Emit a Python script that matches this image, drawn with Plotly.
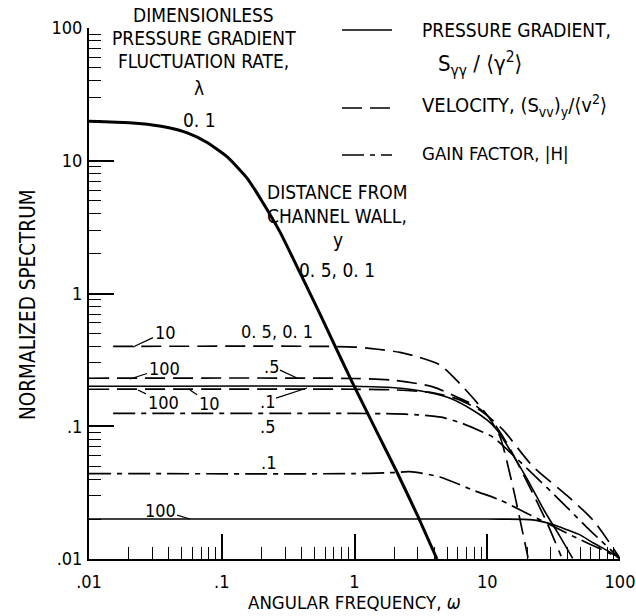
import plotly.graph_objects as go

# ---------------- data ----------------
# Pressure gradient, lambda = 0.1 (velocity y=0.5, 0.1 coincide)
w_p01 = [0.01, 0.02, 0.03, 0.04, 0.055, 0.077, 0.11, 0.155, 0.2, 0.275, 0.4, 0.55, 0.65, 0.96, 1.48, 2.09, 3.0, 4.18]
s_p01 = [19.8, 19.3, 18.6, 17.7, 16.2, 13.8, 10.7, 7.4, 5.0, 2.9, 1.35, 0.70, 0.49, 0.215, 0.09, 0.045, 0.021, 0.01]

# Pressure gradient, lambda = 10
w_p10 = [0.01, 1.0, 2.0, 3.5, 5.2, 7.8, 10.0, 11.8, 15.0, 20.0, 27.0, 35.0, 44.0]
s_p10 = [0.2, 0.2, 0.195, 0.181, 0.163, 0.132, 0.111, 0.094, 0.065, 0.04, 0.023, 0.015, 0.0101]

# Pressure gradient, lambda = 100
w_p100 = [0.01, 10.0, 22.0, 30.0, 40.0, 50.0, 63.0, 80.0, 100.0]
s_p100 = [0.02, 0.02, 0.0197, 0.0184, 0.0166, 0.0152, 0.0132, 0.0116, 0.0101]

# Velocity, lambda = 10 (y = 0.5, 0.1)
w_v10 = [0.0152, 0.5, 1.0, 1.5, 2.2, 3.0, 4.4, 6.2, 8.4, 10.5, 12.5, 15.6, 18.0, 20.3]
s_v10 = [0.4, 0.4, 0.395, 0.38, 0.36, 0.333, 0.29, 0.21, 0.15, 0.113, 0.083, 0.035, 0.018, 0.0102]

# Velocity, lambda = 100, y = 0.5
w_v100a = [0.01, 1.0, 2.0, 3.9, 5.9, 8.4, 10.5, 14.0, 20.0, 28.0, 36.0]
s_v100a = [0.23, 0.229, 0.222, 0.198, 0.166, 0.14, 0.115, 0.075, 0.038, 0.019, 0.0105]

# Velocity, lambda = 100, y = 0.1
w_v100b = [0.01, 1.0, 2.0, 4.0, 6.0, 9.0, 13.0, 22.0, 40.0, 63.0, 100.0]
s_v100b = [0.19, 0.19, 0.188, 0.178, 0.16, 0.13, 0.095, 0.05, 0.03, 0.0195, 0.0101]

# Gain factor |H|, y = 0.5
w_h05 = [0.0152, 1.0, 2.0, 3.0, 4.5, 6.5, 9.3, 11.0, 20.0, 37.0, 56.0, 100.0]
s_h05 = [0.125, 0.125, 0.124, 0.122, 0.117, 0.105, 0.09, 0.083, 0.048, 0.0264, 0.0174, 0.0101]

# Gain factor |H|, y = 0.1
w_h01 = [0.01, 1.0, 2.0, 2.6, 4.4, 7.8, 12.5, 20.0, 30.0, 50.0, 70.0, 100.0]
s_h01 = [0.044, 0.044, 0.0448, 0.0455, 0.0415, 0.033, 0.0278, 0.022, 0.018, 0.014, 0.012, 0.0101]

x_tickvals = [0.01, 0.1, 1, 10, 100]
x_ticktext = [".01", ".1", "1", "10", "100"]
y_tickvals = [0.01, 0.1, 1, 10, 100]
y_ticktext = [".01", ".1", "1", "10", "100"]

# ---------------- figure ----------------
FONT = "Liberation Sans Narrow, DejaVu Sans Condensed, Arial Narrow, sans-serif"
DASH = "20px,8px"
DASHDOT = "22px,6px,5px,6px"

W, H = 636, 616
L, R, T, B = 89, 16, 28, 57
PW, PH = W - L - R, H - T - B

fig = go.Figure()


def add_curve(x, y, dash="solid", width=1.6, smooth=0.7):
    fig.add_trace(go.Scatter(
        x=x, y=y, mode="lines",
        line=dict(color="black", width=width, dash=dash, shape="spline", smoothing=smooth),
        showlegend=False, hoverinfo="skip"))


add_curve(w_p01, s_p01, "solid", 3.0, 0.5)
add_curve(w_p10, s_p10, "solid", 1.6)
add_curve(w_p100, s_p100, "solid", 1.6)
add_curve(w_v10, s_v10, DASH, 1.7)
add_curve(w_v100a, s_v100a, DASH, 1.7)
add_curve(w_v100b, s_v100b, DASH, 1.7)
add_curve(w_h05, s_h05, DASHDOT, 1.7)
add_curve(w_h01, s_h01, DASHDOT, 1.7)


def px(xp):
    return (xp - L) / PW


def py(yp):
    return (H - B - yp) / PH


annotations = []


def text(x, y, s, size=19, anchor="center", **kw):
    annotations.append(dict(x=px(x), y=py(y), xref="paper", yref="paper", text=s,
                            showarrow=False, xanchor=anchor, yanchor="middle",
                            font=dict(size=size, family=FONT, color="black"), **kw))


def label(tx, ty, s, tipx, tipy, size=18):
    annotations.append(dict(x=px(tipx), y=py(tipy), xref="paper", yref="paper", text=s,
                            showarrow=True, arrowhead=0, arrowwidth=1.2, arrowcolor="black",
                            ax=tx - tipx, ay=ty - tipy, standoff=0,
                            font=dict(size=size, family=FONT, color="black")))


# title block top-left
text(203, 15, "DIMENSIONLESS")
text(204, 38, "PRESSURE GRADIENT")
text(203, 61, "FLUCTUATION RATE,")
text(199, 88, "λ")
text(199, 120, "0. 1")

# distance block
text(337, 192, "DISTANCE FROM")
text(337, 216, "CHANNEL WALL,")
text(338, 240, "y")
text(337, 270, "0. 5, 0. 1")

# legend
text(420, 30, "PRESSURE GRADIENT,", anchor="left")
text(436, 64, "S<sub>γγ</sub> / ⟨γ<sup>2</sup>⟩", anchor="left", size=22)
text(420, 106, "VELOCITY, (S<sub>vv</sub>)<sub>y</sub>/⟨v<sup>2</sup>⟩", anchor="left", size=20)
text(420, 153, "GAIN FACTOR, |H|", anchor="left", size=18.5)

# curve labels
label(165, 332, "10", 133, 347)
text(277, 331, "0. 5, 0. 1", size=18)
label(164, 368, "100", 130, 379)
label(271, 366, ".5", 297, 378)
label(163, 402, "100", 138, 390)
label(209, 403, "10", 190, 390)
label(267, 401, ".1", 307, 388)
text(267, 426, ".5", size=18)
text(268, 462, ".1", size=18)
label(160, 510, "100", 190, 519)

# axis titles
text(28, 305, "NORMALIZED SPECTRUM", size=20.5, textangle=-90)
text(354, 602, "ANGULAR FREQUENCY, <i>ω</i>", size=18.5)

fig.update_layout(annotations=annotations)

# legend sample lines (layout shapes in paper coords)
for yy, dsh in [(30, "solid"), (108, DASH), (155, DASHDOT)]:
    fig.add_shape(type="line", xref="paper", yref="paper",
                  x0=px(342), x1=px(392), y0=py(yy), y1=py(yy),
                  line=dict(color="black", width=1.7, dash=dsh))

axis_common = dict(type="log", range=[-2, 2], showgrid=False, zeroline=False,
                   showline=True, linecolor="black", linewidth=2,
                   ticks="inside", tickcolor="black", tickwidth=1.6, ticklen=25,
                   tickfont=dict(size=18, family=FONT, color="black"),
                   minor=dict(ticks="inside", ticklen=12, tickwidth=1.4, tickcolor="black",
                              dtick="D1", showgrid=False))

fig.update_xaxes(tickvals=x_tickvals, ticktext=x_ticktext, ticklabelstandoff=5, **axis_common)
fig.update_yaxes(tickvals=y_tickvals, ticktext=y_ticktext, ticklabelstandoff=1, **axis_common)

fig.update_layout(width=W, height=H, margin=dict(l=L, r=R, t=T, b=B, autoexpand=False),
                  paper_bgcolor="white", plot_bgcolor="white", showlegend=False,
                  font=dict(family=FONT, color="black"))

fig.write_html("out.html")
